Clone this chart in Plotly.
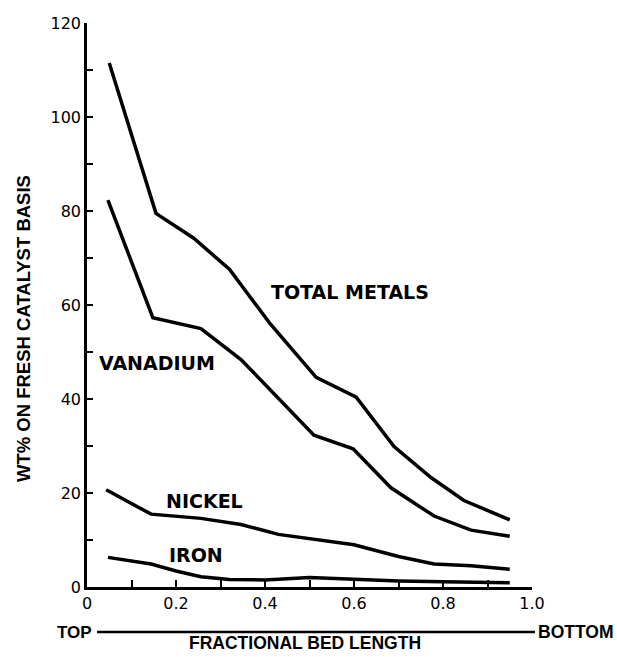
import plotly.graph_objects as go

# Data
total_x = [0.05, 0.155, 0.24, 0.32, 0.41, 0.515, 0.605, 0.69, 0.773, 0.847, 0.95]
total_y = [111.5, 79.5, 74.2, 67.6, 56.2, 44.6, 40.4, 29.9, 23.3, 18.4, 14.3]

van_x = [0.047, 0.148, 0.256, 0.346, 0.51, 0.598, 0.683, 0.78, 0.863, 0.95]
van_y = [82.3, 57.3, 55.0, 48.4, 32.3, 29.4, 21.1, 15.1, 12.1, 10.8]

ni_x = [0.043, 0.144, 0.256, 0.346, 0.43, 0.52, 0.6, 0.7, 0.78, 0.863, 0.95]
ni_y = [20.7, 15.5, 14.6, 13.3, 11.2, 10.1, 9.0, 6.5, 4.9, 4.5, 3.8]

fe_x = [0.047, 0.144, 0.2, 0.256, 0.32, 0.4, 0.5, 0.6, 0.7, 0.8, 0.95]
fe_y = [6.3, 4.9, 3.4, 2.2, 1.6, 1.5, 2.0, 1.6, 1.3, 1.1, 0.9]

x_tickvals = [0, 0.2, 0.4, 0.6, 0.8, 1.0]
x_ticktext = ["0", "0.2", "0.4", "0.6", "0.8", "1.0"]
y_tickvals = [0, 20, 40, 60, 80, 100, 120]
y_ticktext = ["0", "20", "40", "60", "80", "100", "120"]

labels = ["TOTAL METALS", "VANADIUM", "NICKEL", "IRON"]
label_x = [0.41, 0.023, 0.172, 0.18]
label_y = [62.8, 47.7, 18.2, 6.8]

LBL = "DejaVu Sans, Verdana, sans-serif"
TXT = "Liberation Sans, Arial, sans-serif"

fig = go.Figure()
for xs, ys in [(total_x, total_y), (van_x, van_y), (ni_x, ni_y), (fe_x, fe_y)]:
    fig.add_trace(go.Scatter(x=xs, y=ys, mode="lines",
                             line=dict(color="black", width=3.5),
                             showlegend=False, hoverinfo="skip"))

for t, xx, yy in zip(labels, label_x, label_y):
    fig.add_annotation(x=xx, y=yy, text="<b>" + t + "</b>", showarrow=False,
                       xanchor="left", yanchor="middle",
                       font=dict(family=LBL, size=19, color="black"))

# y axis title
fig.add_annotation(xref="paper", yref="paper", x=-0.144, y=0.459,
                   text="<b>WT% ON FRESH CATALYST BASIS</b>", textangle=-90,
                   showarrow=False, xanchor="center", yanchor="middle",
                   font=dict(family=TXT, size=18.5, color="black"))
# TOP / BOTTOM line
fig.add_annotation(xref="paper", yref="paper", x=-0.027, y=-0.0798,
                   text="<b>TOP</b>", showarrow=False, xanchor="center", yanchor="middle",
                   font=dict(family=TXT, size=17, color="black"))
fig.add_annotation(xref="paper", yref="paper", x=1.099, y=-0.0798,
                   text="<b>BOTTOM</b>", showarrow=False, xanchor="center", yanchor="middle",
                   font=dict(family=TXT, size=17.5, color="black"))
fig.add_shape(type="line", xref="paper", yref="paper", x0=0.0225, x1=1.0067,
              y0=-0.0798, y1=-0.0798, line=dict(color="black", width=2.5))
fig.add_annotation(xref="paper", yref="paper", x=0.49, y=-0.121,
                   text="<b>FRACTIONAL BED LENGTH</b>", showarrow=False,
                   xanchor="center", yanchor="bottom",
                   font=dict(family=TXT, size=17.5, color="black"))

fig.update_xaxes(range=[0, 1.0], showline=True, linecolor="black", linewidth=2.5,
                 ticks="inside", ticklen=7, tickwidth=2, tickcolor="black",
                 tickvals=x_tickvals, ticktext=x_ticktext,
                 minor=dict(dtick=0.1, tick0=0, ticks="inside", ticklen=7, tickwidth=2, tickcolor="black"),
                 showgrid=False, zeroline=False,
                 tickfont=dict(family=LBL, size=16, color="black"))
fig.update_yaxes(range=[0, 120], showline=True, linecolor="black", linewidth=2.5,
                 ticks="inside", ticklen=6, tickwidth=2, tickcolor="black",
                 tickvals=y_tickvals, ticktext=y_ticktext,
                 minor=dict(dtick=10, tick0=0, ticks="inside", ticklen=6, tickwidth=2, tickcolor="black"),
                 showgrid=False, zeroline=False,
                 tickfont=dict(family=LBL, size=16, color="black"))

fig.update_layout(width=617, height=657, margin=dict(l=87, r=85, t=23, b=70),
                  plot_bgcolor="white", paper_bgcolor="white")
fig.write_html("out.html")
